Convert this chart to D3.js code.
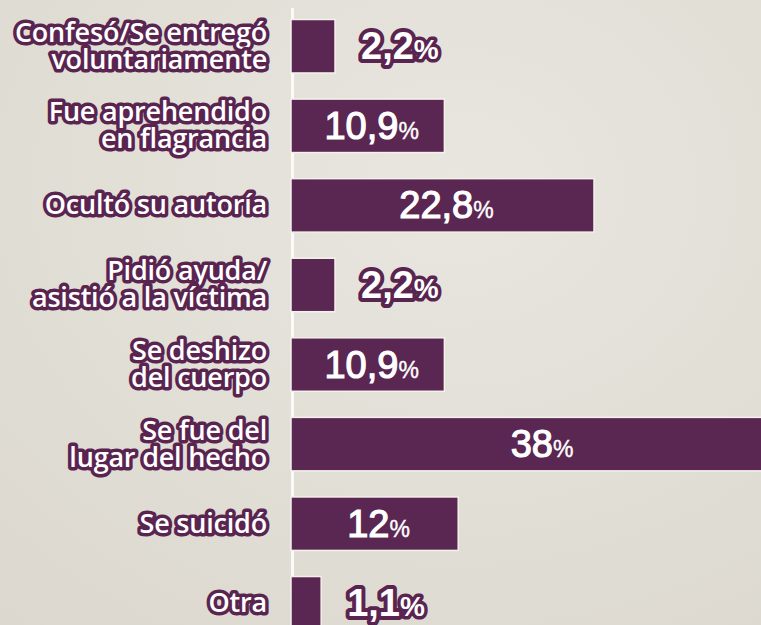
<!DOCTYPE html>
<html>
<head>
<meta charset="utf-8">
<script src="https://cdn.jsdelivr.net/npm/d3@7"></script>
<style>
  html, body { margin: 0; padding: 0; background: #e3e0d8; }
  svg { display: block; }
  .cat { font-family: "Open Sans", sans-serif; font-weight: 600; font-size: 27px; letter-spacing: -0.2px;
         fill: #fff; stroke: #5a2450; stroke-width: 7px; stroke-linejoin: round; paint-order: stroke; }
  .val { font-family: "Liberation Sans", Arial, sans-serif; font-weight: 400; fill: #fff;
         stroke: #fff; stroke-width: 1.2px; }
  .val .pct { stroke-width: 0.4px; }
  .val.out { font-weight: 700; stroke: #5a2450; stroke-width: 8px; stroke-linejoin: round; paint-order: stroke; }
  .val.out .pct { stroke-width: 7px; }
</style>
</head>
<body>
<div id="chart"></div>
<script>
width = 761;
height = 625;

// etiquetas (una entrada por línea de texto)
categories = [
  ["Confesó/Se entregó", "voluntariamente"],
  ["Fue aprehendido", "en flagrancia"],
  ["Ocultó su autoría"],
  ["Pidió ayuda/", "asistió a la víctima"],
  ["Se deshizo", "del cuerpo"],
  ["Se fue del", "lugar del hecho"],
  ["Se suicidó"],
  ["Otra"]
];
values = [2.2, 10.9, 22.8, 2.2, 10.9, 38, 12, 1.1];
valueLabels = ["2,2", "10,9", "22,8", "2,2", "10,9", "38", "12", "1,1"];

const data = categories.map((c, i) => ({ lines: c, value: values[i], label: valueLabels[i], key: i }));

const x0 = 291;

// la gráfica original no está a escala; un origen desplazado se acerca más
const x = d3.scaleLinear().domain([-1.3, 22.8]).range([0, 303]);
const y = d3.scaleBand().domain(data.map(d => d.key)).range([19.5, 630]).paddingInner(0.328);

const svg = d3.select("#chart")
  .append("svg")
  .attr("width", width)
  .attr("height", height);

// fondo con leve variación
const defs = svg.append("defs");
const grad = defs.append("radialGradient").attr("id", "bg").attr("cx", "0.6").attr("cy", "0.3").attr("r", "0.9");
grad.append("stop").attr("offset", "0").attr("stop-color", "#e8e6df");
grad.append("stop").attr("offset", "1").attr("stop-color", "#dcd8cf");
svg.append("rect").attr("width", width).attr("height", height).attr("fill", "url(#bg)");

// eje vertical blanco
svg.append("line")
  .attr("x1", x0 + 1.5).attr("x2", x0 + 1.5)
  .attr("y1", 8).attr("y2", height)
  .attr("stroke", "#fbfaf7")
  .attr("stroke-width", 3);

svg.selectAll(".bar")
  .data(data)
  .join("rect")
  .attr("class", "bar")
  .attr("x", x0)
  .attr("y", d => y(d.key))
  .attr("width", d => x(d.value))
  .attr("height", y.bandwidth())
  .attr("fill", "#5a2652")
  .attr("stroke", "#f4f1ec")
  .attr("stroke-width", 1.5);

// etiquetas de categoría
const lineH = 27;
svg.selectAll(".cat")
  .data(data)
  .join("text")
  .attr("class", "cat")
  .attr("text-anchor", "end")
  .attr("x", 267)
  .attr("y", d => y(d.key) + y.bandwidth() / 2 - (d.lines.length - 1) * lineH / 2 + 9)
  .selectAll("tspan")
  .data(d => d.lines)
  .join("tspan")
  .attr("x", 267)
  .attr("dy", (d, i) => i ? lineH : 0)
  .text(d => d);

// valores: dentro de la barra si cabe, afuera si no
const inside = d => x(d.value) > 100;
const vals = svg.selectAll(".val")
  .data(data)
  .join("text")
  .attr("class", d => inside(d) ? "val" : "val out")
  .attr("text-anchor", d => inside(d) ? "middle" : "start")
  .attr("x", d => inside(d) ? x0 + x(d.value) / 2 + 4 : x0 + x(d.value) + 26)
  .attr("y", d => y(d.key) + y.bandwidth() / 2 + 13);

vals.append("tspan").style("font-size", "38px").text(d => d.label);
vals.append("tspan").attr("class", "pct").style("font-size", d => inside(d) ? "23px" : "28px").text("%");
</script>
</body>
</html>
